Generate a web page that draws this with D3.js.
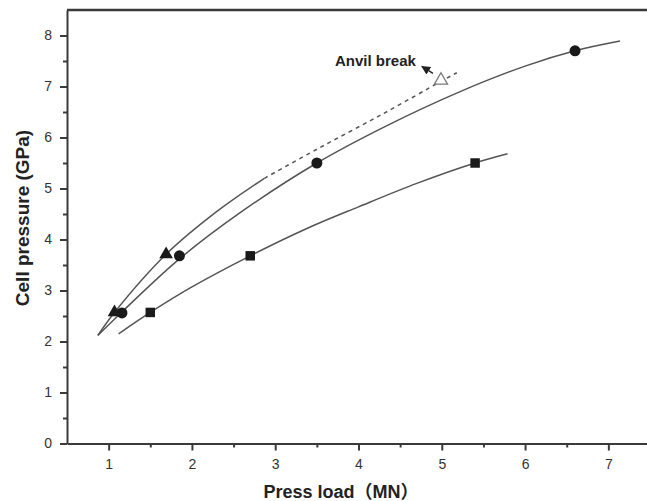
<!DOCTYPE html>
<html lang="en">
<head>
<meta charset="UTF-8">
<title>Cell pressure vs press load</title>
<script src="https://d3js.org/d3.v7.min.js"></script>
<style>
    body { margin: 0; background: #fff; }
    svg { display: block; font-family: "Liberation Sans", Arial, "Noto Sans CJK SC", sans-serif; }
    .axis path, .axis line { stroke: #3a3a3a; stroke-width: 2; }
    .axis text { font-size: 14px; fill: #333; }
    .fit { fill: none; stroke: #555; stroke-width: 1.5; }
    .title { font-size: 18px; font-weight: bold; fill: #222; }
</style>
</head>
<body>
<svg width="647" height="501"></svg>
<script>
// measured markers
const circleX = [1.16, 1.85, 3.5, 6.6];
const circleY = [2.56, 3.68, 5.5, 7.7];
const squareX = [1.5, 2.7, 5.4];
const squareY = [2.57, 3.68, 5.5];
const triX = [1.07, 1.69];
const triY = [2.57, 3.71];
const anvilX = [4.99];
const anvilY = [7.12];

// fitted curves
const circleFitX = [0.87, 1.16, 1.85, 2.6, 3.5, 4.3, 5.22, 6.0, 6.6, 7.14];
const circleFitY = [2.12, 2.58, 3.62, 4.55, 5.5, 6.2, 6.9, 7.4, 7.7, 7.89];
const squareFitX = [1.12, 1.5, 2.0, 2.7, 3.4, 4.0, 4.7, 5.4, 5.79];
const squareFitY = [2.15, 2.57, 3.07, 3.68, 4.23, 4.64, 5.1, 5.5, 5.68];
const triFitX = [0.87, 1.07, 1.69, 2.3, 2.87];
const triFitY = [2.12, 2.57, 3.71, 4.55, 5.2];
const triDashX = [2.87, 3.5, 4.3, 4.99, 5.18];
const triDashY = [5.2, 5.77, 6.47, 7.1, 7.27];

const xTicks = [1, 2, 3, 4, 5, 6, 7];
const xMinor = [1.5, 2.5, 3.5, 4.5, 5.5, 6.5, 7.5];
const yTicks = [0, 1, 2, 3, 4, 5, 6, 7, 8];
const yMinor = [0.5, 1.5, 2.5, 3.5, 4.5, 5.5, 6.5, 7.5];

const svg = d3.select("svg");
const plotLeft = 67, plotTop = 10, plotBottom = 443.5, plotRight = 650;

const x = d3.scaleLinear().domain([0.5, 7.5]).range([plotLeft, plotRight]);
const y = d3.scaleLinear().domain([0, 8.5]).range([plotBottom, plotTop]);

// frame top
svg.append("line")
    .attr("x1", plotLeft).attr("x2", plotRight).attr("y1", plotTop).attr("y2", plotTop)
    .attr("stroke", "#3a3a3a").attr("stroke-width", 2.5);

svg.append("g").attr("class", "axis")
    .attr("transform", `translate(0,${plotBottom})`)
    .call(d3.axisBottom(x).tickValues(xMinor).tickSize(4).tickFormat(""))
    .call(g => g.select(".domain").remove());
svg.append("g").attr("class", "axis")
    .attr("transform", `translate(0,${plotBottom})`)
    .call(d3.axisBottom(x).tickValues(xTicks).tickSize(7).tickSizeOuter(0).tickPadding(9).tickFormat(d3.format("d")));

svg.append("g").attr("class", "axis")
    .attr("transform", `translate(${plotLeft},0)`)
    .call(d3.axisLeft(y).tickValues(yMinor).tickSize(4).tickFormat(""))
    .call(g => g.select(".domain").remove());
svg.append("g").attr("class", "axis")
    .attr("transform", `translate(${plotLeft},0)`)
    .call(d3.axisLeft(y).tickValues(yTicks).tickSize(7).tickSizeOuter(0).tickPadding(8).tickFormat(d3.format("d")));

// curves
const line = d3.line().x(d => x(d[0])).y(d => y(d[1])).curve(d3.curveCatmullRom.alpha(0.5));
const zip = (a, b) => a.map((v, i) => [v, b[i]]);

svg.append("path").attr("class", "fit").attr("d", line(zip(circleFitX, circleFitY)));
svg.append("path").attr("class", "fit").attr("d", line(zip(squareFitX, squareFitY)));
svg.append("path").attr("class", "fit").attr("d", line(zip(triFitX, triFitY)));
svg.append("path").attr("class", "fit")
    .attr("stroke", "#666").attr("stroke-dasharray", "4,4")
    .attr("d", line(zip(triDashX, triDashY)));

// markers
function markers(xs, ys, type, size) {
    svg.append("g").selectAll("path")
        .data(zip(xs, ys))
        .join("path")
        .attr("transform", d => `translate(${x(d[0])},${y(d[1])})`)
        .attr("d", d3.symbol(type, size))
        .attr("fill", "#1a1a1a");
}
markers(circleX, circleY, d3.symbolCircle, 95);
markers(squareX, squareY, d3.symbolSquare, 90);
markers(triX, triY, d3.symbolTriangle, 80);

svg.append("g").selectAll("path")
    .data(zip(anvilX, anvilY))
    .join("path")
    .attr("transform", d => `translate(${x(d[0])},${y(d[1])})`)
    .attr("d", d3.symbol(d3.symbolTriangle, 75))
    .attr("fill", "#fff").attr("stroke", "#777").attr("stroke-width", 1.3);

// annotation
svg.append("defs").append("marker")
    .attr("id", "arr").attr("viewBox", "0 0 10 10")
    .attr("refX", 9).attr("refY", 5)
    .attr("markerWidth", 7).attr("markerHeight", 7)
    .attr("orient", "auto")
    .append("path").attr("d", "M0,0L10,5L0,10z").attr("fill", "#222");

svg.append("line")
    .attr("x1", x(anvilX[0]) - 8).attr("y1", y(anvilY[0]) - 7)
    .attr("x2", x(anvilX[0]) - 19).attr("y2", y(anvilY[0]) - 14)
    .attr("stroke", "#222").attr("stroke-width", 1.3)
    .attr("marker-end", "url(#arr)");

svg.append("text")
    .attr("x", 335).attr("y", 66)
    .style("font-size", "15px").style("font-weight", "bold").attr("fill", "#222")
    .text("Anvil break");

// axis titles
svg.append("text").attr("class", "title")
    .attr("x", 341).attr("y", 498)
    .attr("text-anchor", "middle")
    .text("Press load（MN）");

svg.append("text").attr("class", "title")
    .style("font-size", "19px")
    .attr("transform", "translate(29,218) rotate(-90)")
    .attr("text-anchor", "middle")
    .text("Cell pressure (GPa)");
</script>
</body>
</html>
